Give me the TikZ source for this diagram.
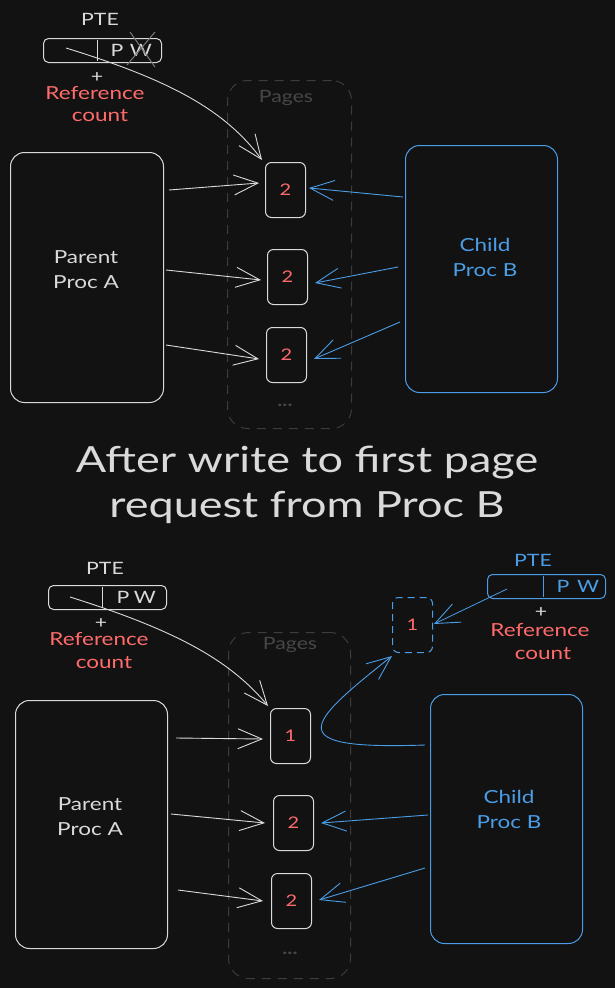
\documentclass[tikz,border=0pt]{standalone}
\usepackage{fontspec}
\setmainfont[FakeStretch=1.25]{Lato}
\usetikzlibrary{arrows.meta,calc}
\definecolor{bg}{HTML}{121212}
\definecolor{fg}{HTML}{DADADA}
\definecolor{rd}{HTML}{FF6B6B}
\definecolor{bl}{HTML}{4A9DE6}
\definecolor{dg}{HTML}{3C3C3C}
\definecolor{lg}{HTML}{474747}
\definecolor{xg}{HTML}{7A7A7A}
\begin{document}
\begin{tikzpicture}[x=1pt,y=-1pt,
  proc/.style={draw=#1, line width=1pt, rounded corners=14pt, anchor=north west, inner sep=0pt},
  ptxt/.style={align=center, text=#1, inner sep=0pt, font=\fontsize{18}{25}\selectfont},
  page/.style={draw=fg, line width=1pt, rounded corners=6pt, anchor=north west, minimum width=40pt, minimum height=55pt, inner sep=0pt, text=rd, font=\fontsize{16}{18}\selectfont},
  newpage/.style={page, draw=bl, dash pattern=on 7pt off 5pt},
  pages/.style={draw=dg, line width=1pt, dash pattern=on 9pt off 7pt, rounded corners=20pt, anchor=north west, inner sep=0pt},
  ptebox/.style={draw=#1, line width=1pt, rounded corners=5pt, anchor=north west, minimum width=118pt, minimum height=24pt, inner sep=0pt},
  lbl/.style={text=#1, inner sep=0pt, font=\fontsize{17}{20}\selectfont},
  lblr/.style={text=rd, inner sep=0pt, font=\fontsize{18}{20}\selectfont},
  arr/.style={draw=#1, line width=0.9pt, -{Straight Barb[length=24pt,width=20pt,line width=0.9pt]}},
  title/.style={text=fg, inner sep=0pt, font=\fontsize{36}{44}\selectfont}
]
\fill[bg] (0,0) rectangle (615,988);
\useasboundingbox (0,0) rectangle (615,988);

% ---------------- top ----------------
\node[pages, minimum width=124pt, minimum height=348pt] (pagesT) at (227,80) {};
\node[lbl=lg] (pagesTl) at (286,98) {Pages};
\node[lbl=lg] (dotsT) at (285,405) {\textbf{...}};

\node[proc=fg, minimum width=153pt, minimum height=250pt] (pA) at (10,152) {};
\node[ptxt=fg] (pAl) at (86,270) {Parent\\Proc A};
\node[proc=bl, minimum width=152pt, minimum height=247pt] (pB) at (405,145) {};
\node[ptxt=bl] (pBl) at (485,257) {Child\\Proc B};

\node[page] (t1) at (265,162) {2};
\node[page] (t2) at (267,249) {2};
\node[page] (t3) at (266,327) {2};

\node[lbl=fg] (pteT) at (100,19) {PTE};
\node[ptebox=fg] (pteTb) at (43,38) {};
\draw[fg, line width=1pt] (97,40) -- (97,61);
\node[lbl=fg] (pteTp) at (117,50) {P};
\node[lbl=fg] (pteTw) at (141,50) {W};
\draw[xg, line width=1pt] (130,32) -- (155,67) (155,32) -- (127,65);
\node[lbl=fg] (plusT) at (97,78) {+};
\node[lblr] (refT) at (95,93) {Reference};
\node[lblr] (cntT) at (100,116) {count};
\coordinate (ptrT) at (66,48);

\draw[arr=fg] (ptrT) .. controls (170,80) and (225,110) .. ([shift={(-3,-2)}]t1.north west);

\draw[arr=fg] ([shift={(5,38)}]pA.north east) -- ([xshift=-6pt,yshift=7pt]t1.west);
\draw[arr=fg] ([shift={(2,118)}]pA.north east) -- ([xshift=-6pt,yshift=-3pt]t2.west);
\draw[arr=fg] ([shift={(2,193)}]pA.north east) -- ([xshift=-7pt,yshift=-4pt]t3.west);

\draw[arr=bl] ([shift={(-2,52)}]pB.north west) -- ([xshift=3pt,yshift=2pt]t1.east);
\draw[arr=bl] ([shift={(-7,122)}]pB.north west) -- ([xshift=7pt,yshift=-6pt]t2.east);
\draw[arr=bl] ([shift={(-5,177)}]pB.north west) -- ([xshift=7pt,yshift=-4pt]t3.east);

% ---------------- title ----------------
\node[title] (ttl1) at (307,463) {After write to first page};
\node[title] (ttl2) at (307,507) {request from Proc B};

% ---------------- bottom ----------------
\node[pages, minimum width=122pt, minimum height=346pt] (pagesB) at (228,632) {};
\node[lbl=lg] (pagesBl) at (290,645) {Pages};
\node[lbl=lg] (dotsB) at (290,953) {\textbf{...}};

\node[proc=fg, minimum width=152pt, minimum height=248pt] (qA) at (15,700) {};
\node[ptxt=fg] (qAl) at (90,817) {Parent\\Proc A};
\node[proc=bl, minimum width=152pt, minimum height=249pt] (qB) at (430,694) {};
\node[ptxt=bl] (qBl) at (509,809) {Child\\Proc B};

\node[page] (b1) at (270,708) {1};
\node[page] (b2) at (273,795) {2};
\node[page] (b3) at (271,873) {2};
\node[newpage] (bn) at (392,597) {1};

\node[lbl=fg] (pteB) at (105,568) {PTE};
\node[ptebox=fg] (pteBb) at (48,585) {};
\draw[fg, line width=1pt] (102,587) -- (102,608);
\node[lbl=fg] (pteBp) at (123,597) {P};
\node[lbl=fg] (pteBw) at (145,597) {W};
\node[lbl=fg] (plusB) at (101,624) {+};
\node[lblr] (refB) at (99,639) {Reference};
\node[lblr] (cntB) at (104,663) {count};
\coordinate (ptrB) at (70,597);

\node[lbl=bl] (pteC) at (533,560) {PTE};
\node[ptebox=bl] (pteCb) at (487,574) {};
\draw[bl, line width=1pt] (543,576) -- (543,597);
\node[lbl=bl] (pteCp) at (563,586) {P};
\node[lbl=bl] (pteCw) at (588,586) {W};
\node[lbl=fg] (plusC) at (541,613) {+};
\node[lblr] (refC) at (540,630) {Reference};
\node[lblr] (cntC) at (543,654) {count};
\coordinate (ptrC) at (507,589);

\draw[arr=fg] (ptrB) .. controls (175,630) and (230,660) .. ([shift={(-2,-2)}]b1.north west);
\draw[arr=bl, line width=0.8pt] (ptrC) -- ([xshift=1pt,yshift=1pt]bn.east);
\draw[arr=bl] ([shift={(-5,51)}]qB.north west) .. controls (280,750) and (305,725) .. ([shift={(0,3)}]bn.south west);

\draw[arr=fg] ([shift={(8,38)}]qA.north east) -- ([xshift=-7pt,yshift=-3pt]b1.west);
\draw[arr=fg] ([shift={(3,114)}]qA.north east) -- ([xshift=-8pt]b2.west);
\draw[arr=fg] ([shift={(10,190)}]qA.north east) -- ([xshift=-8pt]b3.west);

\draw[arr=bl] ([shift={(-2,121)}]qB.north west) -- ([xshift=7pt]b2.east);
\draw[arr=bl] ([shift={(-5,174)}]qB.north west) -- ([xshift=7pt,yshift=1pt]b3.east);
\end{tikzpicture}
\end{document}
